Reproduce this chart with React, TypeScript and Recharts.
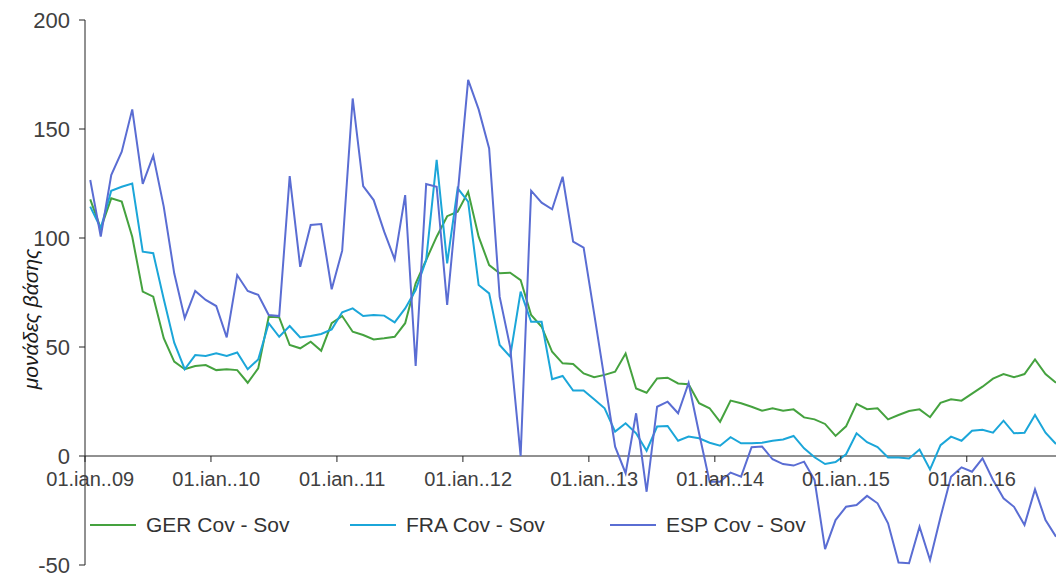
import React from 'react';
import { LineChart, Line, XAxis, YAxis, ReferenceLine } from 'recharts';

const yearLabels = ['01.ian..09', '01.ian..10', '01.ian..11', '01.ian..12', '01.ian..13', '01.ian..14', '01.ian..15', '01.ian..16'];
const yTicks = [-50, 0, 50, 100, 150, 200];

const gerCovSov = [
  117.7, 104.4, 118.2, 116.7, 100.6, 75.4, 73.1, 54, 43.3, 39.8, 41.3, 41.7,
  39.4, 39.8, 39.4, 33.6, 40.2, 63.9, 63.6, 50.9, 49.4, 52.4, 48.3, 60.9,
  64.2, 57, 55.5, 53.5, 54, 54.7, 60.9, 79.2, 89.9, 100.6, 110, 112.1,
  121.2, 100.6, 87.6, 83.8, 84.1, 80.7, 64.7, 59.3, 47.8, 42.5, 42.2, 37.9,
  36.1, 37.2, 38.7, 47, 31, 29, 35.6, 35.9, 33.3, 32.9, 24.2, 21.9,
  15.7, 25.4, 24.2, 22.6, 20.8, 21.9, 20.8, 21.4, 17.7, 16.8, 14.7, 9.2,
  13.6, 23.9, 21.5, 21.9, 16.8, 18.8, 20.6, 21.4, 17.8, 24.4, 26, 25.4,
  28.6, 31.8, 35.5, 37.6, 36.1, 37.6, 44.3, 37.6, 33.6,
];

const fraCovSov = [
  114.4, 104.5, 121.7, 123.5, 125, 93.7, 93, 72, 52, 39.8, 46.3, 45.9,
  47.1, 45.9, 47.5, 39.8, 44.3, 60.9, 54.7, 59.6, 54.4, 55, 56, 58.1,
  65.9, 67.7, 64.2, 64.7, 64.4, 61.3, 67.7, 76.1, 89.9, 135.8, 88.4, 122.8,
  116.7, 78.4, 74.6, 50.9, 45.6, 75.4, 61.6, 61.6, 35.2, 36.7, 30, 30,
  26, 21.9, 11.2, 15, 10.4, 2.4, 13.5, 13.8, 7, 8.9, 8.1, 6.1,
  4.7, 8.6, 5.8, 5.8, 6.1, 7, 7.6, 9.2, 3.5, -0.6, -3.7, -2.8,
  0.8, 10.4, 6.3, 4.1, -0.7, -0.7, -1.1, 3, -6.2, 5, 8.9, 7,
  11.6, 12, 10.7, 16.2, 10.4, 10.7, 18.8, 10.7, 5.5,
];

const espCovSov = [
  126.6, 100.6, 128.9, 139.6, 159, 124.8, 137.8, 114.4, 83.8, 63.2, 75.7, 71.6,
  68.8, 54.4, 83, 75.7, 73.9, 64.7, 64.2, 128.4, 86.8, 106, 106.4, 76.5,
  94.2, 164, 123.8, 117.4, 102.9, 90.2, 119.7, 41.3, 124.8, 123.5, 69.3, 120,
  172.5, 159, 141.1, 73.1, 50.1, 0, 121.7, 116.2, 113.2, 128.1, 98.3, 95.6,
  65.4, 34.9, 4.3, -7.9, 19.6, -16.4, 22.6, 24.9, 19.6, 33.5, 10.4, -11.8,
  -11.8, -7.6, -9.5, 4, 4.3, -1.5, -3.7, -4.4, -2.6, -11, -42.7, -29.4,
  -23.3, -22.5, -18.3, -21.7, -30.9, -48.9, -49.2, -32.4, -47.7, -28, -9.5, -5.2,
  -7.2, -1.1, -11, -19.4, -23.3, -31.6, -15.3, -29.4, -37,
];

const seriesNames = ['GER Cov - Sov', 'FRA Cov - Sov', 'ESP Cov - Sov'];
const seriesColors = ['#45a23f', '#1ba6d9', '#5a6dd3'];

const data = gerCovSov.map((v, i) => ({
  x: i + 0.5,
  ger: v,
  fra: fraCovSov[i],
  esp: espCovSov[i],
}));

const W = 1056;
const H = 574;
const PLOT_LEFT = 85;
const PLOT_TOP = 20;
const PLOT_H = 545;
const X_MAX = 92.5;
const zeroY = PLOT_TOP + PLOT_H * (200 / 250);
const halfCat = ((W - PLOT_LEFT) / X_MAX) * 0.5;
const FONT = '"Liberation Sans", Arial, sans-serif';

const XTick = (props: any) => {
  const { x, payload } = props;
  const idx = Math.round(payload.value / 12);
  return (
    <g>
      <line x1={x} x2={x} y1={zeroY} y2={zeroY + 6} stroke="#222" strokeWidth={1} />
      <text x={x + halfCat} y={zeroY + 30} textAnchor="middle" fontSize={20} fill="#404040" fontFamily={FONT}>
        {yearLabels[idx]}
      </text>
    </g>
  );
};

const YLabel = () => (
  <text
    x={30}
    y={319}
    transform="rotate(-90 30 319)"
    textAnchor="middle"
    dominantBaseline="central"
    fontSize={21}
    fontStyle="italic"
    fill="#1a1a1a"
    fontFamily={FONT}
  >
    μονάδες βάσης
  </text>
);

export default function App() {
  return (
    <div style={{ position: 'relative', width: W, height: H, background: '#fff', overflow: 'hidden' }}>
      <style>{'body{margin:0;}'}</style>
      <LineChart width={W} height={H} data={data} margin={{ top: PLOT_TOP, right: 0, bottom: 8, left: 0 }}>
        <XAxis
          dataKey="x"
          type="number"
          domain={[0, X_MAX]}
          ticks={[0, 12, 24, 36, 48, 60, 72, 84]}
          interval={0}
          axisLine={false}
          tickLine={false}
          tick={<XTick />}
          height={1}
        />
        <YAxis
          domain={[-50, 200]}
          ticks={yTicks}
          interval={0}
          width={PLOT_LEFT}
          axisLine={{ stroke: '#222' }}
          tickLine={{ stroke: '#222' }}
          tickSize={6}
          tickMargin={9}
          tick={{ fontSize: 22, fill: '#404040', fontFamily: FONT }}
          label={<YLabel />}
        />
        <ReferenceLine y={0} stroke="#222" strokeWidth={1} />
        <Line type="linear" dataKey="ger" stroke={seriesColors[0]} strokeWidth={2} dot={false} isAnimationActive={false} />
        <Line type="linear" dataKey="fra" stroke={seriesColors[1]} strokeWidth={2} dot={false} isAnimationActive={false} />
        <Line type="linear" dataKey="esp" stroke={seriesColors[2]} strokeWidth={2} dot={false} isAnimationActive={false} />
      </LineChart>
      {seriesNames.map((name, i) => (
        <div
          key={name}
          style={{
            position: 'absolute',
            left: 90 + i * 260,
            top: 513,
            display: 'flex',
            alignItems: 'center',
            fontFamily: FONT,
            fontSize: 21,
            color: '#333',
          }}
        >
          <span style={{ display: 'inline-block', width: 46, height: 2, background: seriesColors[i], marginRight: 10 }} />
          <span>{name}</span>
        </div>
      ))}
    </div>
  );
}
